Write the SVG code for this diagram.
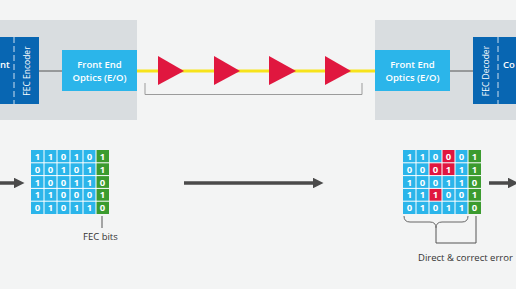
<svg xmlns="http://www.w3.org/2000/svg" width="516" height="289" viewBox="0 0 516 289">
<style>
.t{font-family:"Open Sans","Liberation Sans",sans-serif;fill:#fff}
.box{font-size:9.5px;font-weight:600;text-anchor:middle}
.vt{font-size:8.5px;font-weight:400;text-anchor:middle}
.cell{font-size:9.5px;font-weight:700;text-anchor:middle}
.lbl{font-family:"Open Sans","Liberation Sans",sans-serif;fill:#333;font-size:9.5px;font-weight:500}
.b{fill:#2bb5ea}.g{fill:#3b9b2f}.r{fill:#e0173f}
.grid{stroke:#fff;stroke-width:1;fill:none}
.dash{stroke:#fff;stroke-width:1;stroke-dasharray:6 3;opacity:0.8}
</style>
<defs>
<marker id="ah" markerWidth="3" markerHeight="3" refX="0" refY="1.5" orient="auto" markerUnits="strokeWidth">
<path d="M0,0 L3,1.5 L0,3 Z" fill="#4a4a4a"/>
</marker>
</defs>
<rect width="516" height="289" fill="#f3f4f4"/>
<g id="panel-left"><rect x="0" y="20" width="137" height="100" fill="#d9dde0"/></g>
<g id="panel-right"><rect x="375" y="20" width="141" height="100" fill="#d9dde0"/></g>
<g id="connectors">
<line x1="39" y1="71" x2="62" y2="71" stroke="#555" stroke-width="1"/>
<line x1="450" y1="71" x2="473" y2="71" stroke="#555" stroke-width="1"/>
<line x1="137" y1="71" x2="375" y2="71" stroke="#f7e31b" stroke-width="3"/>
<polyline points="145,83 145,94.5 362,94.5 362,83" fill="none" stroke="#9b9b9b" stroke-width="1"/>
<line x1="0" y1="183" x2="14" y2="183" stroke="#4a4a4a" stroke-width="3.5" marker-end="url(#ah)"/>
<line x1="184" y1="183" x2="313" y2="183" stroke="#4a4a4a" stroke-width="3.5" marker-end="url(#ah)"/>
<line x1="489" y1="183" x2="508" y2="183" stroke="#4a4a4a" stroke-width="3.5" marker-end="url(#ah)"/>
<line x1="102" y1="216" x2="102" y2="228" stroke="#555" stroke-width="1"/>
<path d="M404,216 Q404,222 410,222 L430,222 Q436,222 436,228 Q436,222 442,222 L462,222 Q468,222 468,216" fill="none" stroke="#666" stroke-width="1"/>
<polyline points="436,228 436,243 476,243 476,216" fill="none" stroke="#555" stroke-width="1"/>
</g>
<g id="amps" fill="#e0173f">
<polygon points="158,56 184,71 158,85"/>
<polygon points="214,56 240,71 214,85"/>
<polygon points="269,56 296,71 269,85"/>
<polygon points="325,56 351,71 325,85"/>
</g>
<g id="client-encoder">
<rect x="0" y="37" width="39" height="67" fill="#0866b2"/>
<line x1="14" y1="37" x2="14" y2="104" class="dash"/>
<text class="t box" x="0" y="68" style="text-anchor:start;font-size:9.5px">nt</text>
<text class="t vt" transform="translate(29.5,71) rotate(-90)">FEC Encoder</text>
</g>
<g id="optics-left">
<rect x="62" y="50" width="75" height="41" fill="#2bb5ea"/>
<text class="t box" x="99.5" y="67.5">Front End</text>
<text class="t box" x="99.5" y="80.5">Optics (E/O)</text>
</g>
<g id="optics-right">
<rect x="375" y="50" width="75" height="41" fill="#2bb5ea"/>
<text class="t box" x="412.5" y="67.5">Front End</text>
<text class="t box" x="412.5" y="80.5">Optics (E/O)</text>
</g>
<g id="decoder-client">
<rect x="473" y="37" width="43" height="67" fill="#0866b2"/>
<line x1="498" y1="37" x2="498" y2="104" class="dash"/>
<text class="t vt" transform="translate(488.5,71) rotate(-90)">FEC Decoder</text>
<text class="t box" x="503" y="68" style="text-anchor:start;font-size:9.5px">Co</text>
</g>
<g id="matrix-left">
<rect class="b" x="31" y="150" width="65" height="64"/>
<rect class="g" x="96" y="150" width="13" height="64"/>
<path class="grid" d="M44,150V214M57,150V214M70,150V214M83,150V214M96,150V214M31,162.8H109M31,175.6H109M31,188.4H109M31,201.2H109"/>
<g class="t cell">
<text x="37.5" y="160">1</text><text x="50.5" y="160">1</text><text x="63.5" y="160">0</text><text x="76.5" y="160">1</text><text x="89.5" y="160">0</text><text x="102.5" y="160">1</text>
<text x="37.5" y="172.8">0</text><text x="50.5" y="172.8">0</text><text x="63.5" y="172.8">1</text><text x="76.5" y="172.8">0</text><text x="89.5" y="172.8">1</text><text x="102.5" y="172.8">1</text>
<text x="37.5" y="185.6">1</text><text x="50.5" y="185.6">0</text><text x="63.5" y="185.6">0</text><text x="76.5" y="185.6">1</text><text x="89.5" y="185.6">1</text><text x="102.5" y="185.6">0</text>
<text x="37.5" y="198.4">1</text><text x="50.5" y="198.4">1</text><text x="63.5" y="198.4">0</text><text x="76.5" y="198.4">0</text><text x="89.5" y="198.4">0</text><text x="102.5" y="198.4">1</text>
<text x="37.5" y="211.2">0</text><text x="50.5" y="211.2">1</text><text x="63.5" y="211.2">0</text><text x="76.5" y="211.2">1</text><text x="89.5" y="211.2">1</text><text x="102.5" y="211.2">0</text>
</g>
<text class="lbl" x="83" y="240">FEC bits</text>
</g>
<g id="matrix-right">
<rect class="b" x="403" y="150" width="65" height="64"/>
<rect class="g" x="468" y="150" width="13" height="64"/>
<rect class="r" x="442" y="150" width="13" height="12.8"/>
<rect class="r" x="429" y="162.8" width="26" height="12.8"/>
<rect class="r" x="429" y="188.4" width="13" height="12.8"/>
<path class="grid" d="M416,150V214M429,150V214M442,150V214M455,150V214M468,150V214M403,162.8H481M403,175.6H481M403,188.4H481M403,201.2H481"/>
<g class="t cell">
<text x="409.5" y="160">1</text><text x="422.5" y="160">1</text><text x="435.5" y="160">0</text><text x="448.5" y="160">0</text><text x="461.5" y="160">0</text><text x="474.5" y="160">1</text>
<text x="409.5" y="172.8">0</text><text x="422.5" y="172.8">0</text><text x="435.5" y="172.8">0</text><text x="448.5" y="172.8">1</text><text x="461.5" y="172.8">1</text><text x="474.5" y="172.8">1</text>
<text x="409.5" y="185.6">1</text><text x="422.5" y="185.6">0</text><text x="435.5" y="185.6">0</text><text x="448.5" y="185.6">1</text><text x="461.5" y="185.6">1</text><text x="474.5" y="185.6">0</text>
<text x="409.5" y="198.4">1</text><text x="422.5" y="198.4">1</text><text x="435.5" y="198.4">1</text><text x="448.5" y="198.4">0</text><text x="461.5" y="198.4">0</text><text x="474.5" y="198.4">1</text>
<text x="409.5" y="211.2">0</text><text x="422.5" y="211.2">1</text><text x="435.5" y="211.2">0</text><text x="448.5" y="211.2">1</text><text x="461.5" y="211.2">1</text><text x="474.5" y="211.2">0</text>
</g>
<text class="lbl" x="418" y="261">Direct &amp; correct error</text>
</g>
</svg>
